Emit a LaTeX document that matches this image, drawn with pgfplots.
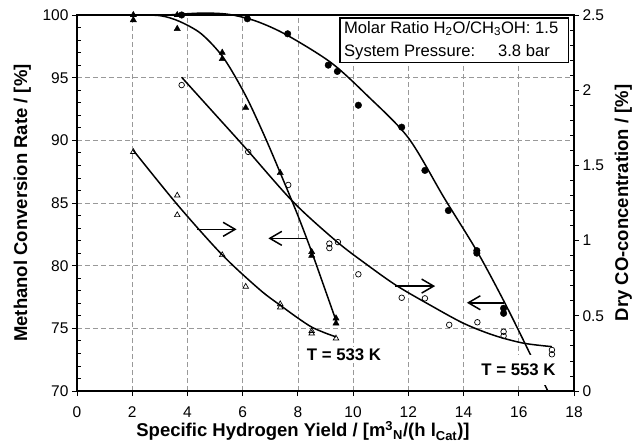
\documentclass[border=0pt]{standalone}
\usepackage{fontspec}
\setmainfont{Liberation Sans}
\usepackage{pgfplots}
\pgfplotsset{compat=1.18}
\usetikzlibrary{arrows.meta}
\begin{document}
\begin{tikzpicture}
\pgfplotsset{
  common/.style={
    width=497pt, height=376pt, scale only axis,
    xmin=0, xmax=18, clip=false,
    /pgf/number format/assume math mode=true,
    tick label style={font=\fontsize{15.5}{18}\selectfont},
    label style={font=\bfseries\fontsize{18.5}{22}\selectfont},
    tick align=outside,
    major tick length=5pt, minor tick length=4pt,
    tick style={black, line width=0.8pt},
  }
}
\begin{axis}[common,
  ymin=70, ymax=100,
  xtick={0,2,...,18}, ytick={70,75,...,100},
  minor y tick num=4,
  minor tick style={xshift=4pt},
  xtick pos=bottom, ytick pos=left,
  xticklabel style={inner sep=0.5pt, yshift=-10pt},
  axis line style={line width=2.2pt},
  grid=major,
  major grid style={dash pattern=on 5pt off 3pt, gray!80, line width=0.7pt},
  xlabel={Specific Hydrogen Yield / [m\textsuperscript{3}\textsubscript{N}/(h l\textsubscript{Cat})]},
  ylabel={Methanol Conversion Rate / [\%]},
  xlabel style={at={(axis description cs:0.4547,-0.1223)}, anchor=base, inner sep=0pt},
  ylabel style={at={(axis description cs:-0.1006,0.5)}, anchor=base},
]
% 533 K conversion (filled triangles)
\addplot[only marks, mark=triangle*, mark size=3.6pt, black] coordinates {
(2.04,99.6) (2.04,100) (3.63,98.9) (3.63,100) (5.26,97.0) (5.26,96.5)
(6.11,92.6) (7.36,87.4) (8.5,81.1) (8.5,80.8) (9.38,75.8) (9.38,75.4)};
% 553 K conversion (filled circles)
\addplot[only marks, mark=*, mark size=3.3pt, black] coordinates {
(3.79,100) (6.17,99.7) (7.63,98.5) (9.1,96.0) (9.43,95.5) (10.19,92.8)
(11.76,91.05) (12.6,87.6) (13.45,84.4) (14.48,81.2) (14.48,81.0) (15.45,76.6) (15.45,76.2)};
% fitted curves
\addplot[smooth, no marks, black, line width=1.5pt] coordinates {
(2,100) (3,99.95) (3.7,99.5) (4.5,98.5) (5.3,96.6) (6.1,93.6) (6.8,90.3)
(7.4,87.2) (8.0,84.0) (8.5,81.1) (9.0,78.0) (9.4,75.5)};
\addplot[smooth, no marks, black, line width=1.5pt] coordinates {
(3.3,100) (4.5,100.15) (5.5,100.05) (6.5,99.5) (7.6,98.4) (9.2,96.2)
(10.5,93.6) (12,90.2) (13.3,85.4) (14.5,81.1) (15.5,77.0) (16.4,73.0) (17.05,70.0)};
% arrows
\draw[line width=1.5pt, -{Straight Barb[length=12pt,width=14pt]}] (axis cs:4.34,82.9) -- (axis cs:5.78,82.9);
\draw[line width=1.5pt, -{Straight Barb[length=12pt,width=14pt]}] (axis cs:8.32,82.18) -- (axis cs:6.93,82.18);
\draw[line width=1.5pt, -{Straight Barb[length=12pt,width=14pt]}] (axis cs:11.52,78.37) -- (axis cs:12.97,78.37);
\draw[line width=1.5pt, -{Straight Barb[length=12pt,width=14pt]}] (axis cs:15.45,77.04) -- (axis cs:14.12,77.04);
% labels
\node[fill=white, inner sep=2pt, font=\bfseries\fontsize{16.8}{18}\selectfont] at (axis cs:9.67,72.87) {T = 533 K};
\node[fill=white, inner sep=2pt, minimum height=30pt, font=\bfseries\fontsize{16.8}{18}\selectfont] at (axis cs:15.99,71.67) {T = 553 K};
% info box
\node[draw, line width=1.5pt, fill=white, anchor=north east, inner xsep=4pt, inner ysep=3pt, align=left,
  font=\fontsize{16.6}{23}\selectfont] at ([xshift=-5pt,yshift=-2.3pt]rel axis cs:1,1)
  {Molar Ratio H\textsubscript{2}O/CH\textsubscript{3}OH: 1.5\hspace*{6pt}\\System Pressure:\hspace{23pt}3.8 bar};
\end{axis}
\begin{axis}[common,
  ymin=0, ymax=2.5,
  axis x line=none, axis y line*=right,
  ytick={0,0.5,...,2.5},
  minor y tick num=4,
  minor tick style={xshift=-4pt},
  axis line style={line width=2.2pt},
  ylabel={Dry CO-concentration / [\%]},
  ylabel style={at={(axis description cs:1.1087,0.5)}, anchor=base},
]
% 553 K CO (open circles)
\addplot[only marks, mark=o, mark size=2.8pt, black, line width=0.7pt] coordinates {
(3.79,2.034) (6.2,1.59) (7.65,1.37) (9.14,0.98) (9.14,0.95) (9.45,0.99) (10.19,0.776)
(11.76,0.62) (12.6,0.616) (13.48,0.44) (14.5,0.457) (15.45,0.394) (15.45,0.366) (17.2,0.273) (17.2,0.244)};
% 533 K CO (open triangles)
\addplot[only marks, mark=triangle, mark size=3.2pt, black, line width=0.7pt] coordinates {
(2.04,1.59) (3.63,1.30) (3.63,1.17) (5.26,0.904) (6.11,0.694) (7.36,0.578) (7.36,0.556)
(8.5,0.399) (8.5,0.383) (9.38,0.35)};
\addplot[smooth, no marks, black, line width=1.5pt] coordinates {
(3.79,2.086) (5,1.84) (6.11,1.614) (7.84,1.255) (9.43,0.99) (10.5,0.84) (11.58,0.70)
(12.8,0.57) (14,0.45) (15.1,0.37) (16.17,0.318) (17.2,0.295)};
\addplot[smooth, no marks, black, line width=1.5pt] coordinates {
(2.04,1.60) (3.63,1.24) (5.26,0.905) (6.63,0.672) (7.4,0.565) (8.0,0.485) (8.5,0.425) (9.0,0.385) (9.38,0.36)};
\end{axis}
\pgfresetboundingbox
\path ([shift={(-77pt,-56pt)}]current axis.south west) rectangle ([shift={(59pt,15pt)}]current axis.north east);
\end{tikzpicture}
\end{document}
